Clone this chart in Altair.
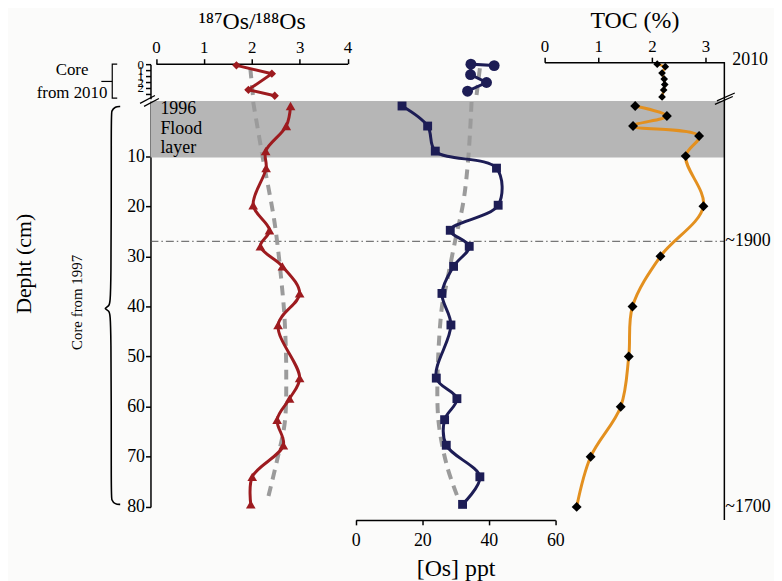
import altair as alt
import pandas as pd

# ---------------- data ----------------
# Core from 1997 (depth in cm)
core97_depth = [0, 4, 9, 12.4, 19.8, 24.8, 28, 32, 37.4, 43.7, 54.3, 58.4, 62.6, 67.7, 74, 79.5]
core97_os_ratio = [2.81, 2.72, 2.29, 2.30, 2.03, 2.37, 2.18, 2.64, 3.00, 2.55, 3.00, 2.79, 2.53, 2.66, 2.01, 1.98]
core97_os_ppt = [13.9, 21.6, 23.9, 42.3, 42.8, 28.4, 34.1, 29.4, 25.9, 28.6, 24.2, 30.4, 26.7, 27.2, 37.3, 32.1]
core97_toc_depth = [0, 2, 4, 6, 10, 20, 30, 40, 50, 60, 70, 80]
core97_toc = [1.69, 2.28, 1.65, 2.88, 2.63, 2.96, 2.16, 1.64, 1.57, 1.42, 0.86, 0.60]

# Core from 2010
core10_ratio_depth = [0.1, 0.8, 2.15, 2.65]
core10_os_ratio = [1.68, 2.42, 1.93, 2.48]
core10_ppt_depth = [0.12, 0.0, 0.88, 1.54, 2.27]
core10_os_ppt = [41.6, 34.6, 34.5, 39.3, 33.6]
core10_toc_depth = [0, 0.21, 0.75, 1.25, 1.71, 2.17, 2.75]
core10_toc = [2.10, 2.25, 2.19, 2.23, 2.24, 2.22, 2.19]

# dashed trend curves
trend_ratio_depth = [-0.8, 10.3, 23.5, 38, 43.3, 53.2, 63.1, 69.8, 78.2]
trend_ratio = [2.03, 2.23, 2.48, 2.65, 2.69, 2.72, 2.69, 2.55, 2.34]
trend10_ratio_depth = [0.35, 2.85]
trend10_ratio = [1.97, 2.03]
trend_ppt_depth = [-0.8, 9.7, 18.9, 26.8, 36.7, 40, 53.2, 63.1, 71.8, 78.0]
trend_ppt = [34.8, 33.9, 32.4, 29.9, 26.9, 25.9, 24.6, 24.9, 27.4, 30.6]
trend10_ppt_depth = [0.35, 2.6]
trend10_ppt = [37.3, 36.3]

flood_layer = [-1, 10.3]          # depth range of the 1996 flood layer
flood_text = ["1996", "Flood", "layer"]
flood_text_depth = [0.7, 4.6, 8.4]
date_labels = ["~1900", "~1700"]
date_depths = [27, 80]

# ---------------- layout ----------------
W, H = 578, 461
FONT = "Liberation Serif"
RED = "#9d1b1f"
NAVY = "#1d1d55"
ORANGE = "#e3901f"
GREY = "#9b9b9b"


def sc(domain, rng):
    return alt.Scale(domain=domain, range=rng, nice=False, zero=False)


X_RATIO = [[0, 4], [5.5, 198.5]]
X_PPT = [[0, 60], [206.8, 407.8]]
X_TOC = [[0, 3.35], [396.8, 578]]
Y_TOP = [[0, 2.9], [2, 36.8]]
Y_BOT = [[-1, 80], [39.1, 447.9]]


def X(s, axis=None, field="v"):
    return alt.X(f"{field}:Q", scale=sc(*s), axis=axis)


def Y(s, axis=None, field="d"):
    return alt.Y(f"{field}:Q", scale=sc(*s), axis=axis)


def df(d, v):
    return pd.DataFrame({"d": d, "v": v, "i": list(range(len(d)))})


layers = []

# flood band
layers.append(
    alt.Chart(pd.DataFrame({"d": [flood_layer[0]], "d2": [flood_layer[1]]}))
    .mark_rect(color="#b6b6b6")
    .encode(x=alt.value(0), x2=alt.value(W), y=Y(Y_BOT), y2="d2:Q")
)
# ~1900 dash-dot line
layers.append(
    alt.Chart(pd.DataFrame({"d": [date_depths[0]]}))
    .mark_rule(color="#555555", strokeWidth=1, strokeDash=[8, 3, 1.5, 3])
    .encode(x=alt.value(0), x2=alt.value(W), y=Y(Y_BOT))
)
# right frame line
layers.append(
    alt.Chart(pd.DataFrame({"a": [0]}))
    .mark_rule(color="black", strokeWidth=1.5)
    .encode(x=alt.value(W), y=alt.value(0), y2=alt.value(H))
)

# dashed trends
dash = dict(color=GREY, strokeWidth=4, strokeDash=[10, 7])
for d, v, xs, ys in [
    (trend_ratio_depth, trend_ratio, X_RATIO, Y_BOT),
    (trend10_ratio_depth, trend10_ratio, X_RATIO, Y_TOP),
    (trend_ppt_depth, trend_ppt, X_PPT, Y_BOT),
    (trend10_ppt_depth, trend10_ppt, X_PPT, Y_TOP),
]:
    layers.append(
        alt.Chart(df(d, v)).mark_line(interpolate="catmull-rom", **dash)
        .encode(x=X(xs), y=Y(ys), order="i:Q")
    )

ax_common = dict(labelFlush=False, labelOverlap=False, grid=False)

# ---- Os ratio ----
layers.append(
    alt.Chart(df(core97_depth, core97_os_ratio)).mark_line(color=RED, strokeWidth=3, interpolate="catmull-rom")
    .encode(x=X(X_RATIO), y=Y(Y_BOT), order="i:Q")
)
layers.append(
    alt.Chart(df(core97_depth, core97_os_ratio))
    .mark_point(shape="triangle-up", filled=True, size=95, color=RED, opacity=1)
    .encode(
        x=X(X_RATIO),
        y=Y(Y_BOT, alt.Axis(orient="left", values=[10, 20, 30, 40, 50, 60, 70, 80], title=None,
                            labelFontSize=18, labelPadding=1, tickSize=5, **ax_common)),
    )
)
layers.append(
    alt.Chart(df(core10_ratio_depth, core10_os_ratio)).mark_line(color=RED, strokeWidth=3)
    .encode(x=X(X_RATIO), y=Y(Y_TOP), order="i:Q")
)
layers.append(
    alt.Chart(df(core10_ratio_depth, core10_os_ratio))
    .mark_point(shape="diamond", filled=True, size=70, color=RED, opacity=1)
    .encode(
        x=X(X_RATIO, alt.Axis(orient="top", values=[0, 1, 2, 3, 4], format="d", title="¹⁸⁷Os/¹⁸⁸Os",
                              labelFontSize=17, titleFontSize=24, titlePadding=5, labelPadding=2,
                              tickSize=5, offset=-1.5, **ax_common)),
        y=Y(Y_TOP, alt.Axis(orient="left", values=[0, 0.5, 1, 1.5, 2, 2.5], title=None,
                            labelExpr="datum.value < 2.4 ? format(datum.value, '.0f') : ''",
                            labelFontSize=13, labelPadding=2, tickSize=5, **ax_common)),
    )
)

# ---- Os concentration ----
layers.append(
    alt.Chart(df(core97_depth, core97_os_ppt)).mark_line(color=NAVY, strokeWidth=3, interpolate="catmull-rom")
    .encode(x=X(X_PPT), y=Y(Y_BOT), order="i:Q")
)
layers.append(
    alt.Chart(df(core97_depth, core97_os_ppt))
    .mark_point(shape="square", filled=True, size=80, color=NAVY, opacity=1)
    .encode(
        x=X(X_PPT, alt.Axis(orient="bottom", values=[0, 20, 40, 60], format="d", title="[Os] ppt",
                            labelFontSize=18, titleFontSize=24, titlePadding=7, labelPadding=7,
                            tickSize=5, **ax_common)),
        y=Y(Y_BOT),
    )
)
layers.append(
    alt.Chart(df(core10_ppt_depth, core10_os_ppt)).mark_line(color=NAVY, strokeWidth=3)
    .encode(x=X(X_PPT), y=Y(Y_TOP), order="i:Q")
)
layers.append(
    alt.Chart(df(core10_ppt_depth, core10_os_ppt))
    .mark_point(shape="circle", filled=True, size=120, color=NAVY, opacity=1)
    .encode(x=X(X_PPT), y=Y(Y_TOP))
)

# ---- TOC ----
layers.append(
    alt.Chart(df(core97_toc_depth, core97_toc)).mark_line(color=ORANGE, strokeWidth=3, interpolate="catmull-rom")
    .encode(x=X(X_TOC), y=Y(Y_BOT), order="i:Q")
)
layers.append(
    alt.Chart(df(core97_toc_depth, core97_toc))
    .mark_point(shape="diamond", filled=True, size=100, color="black", opacity=1)
    .encode(x=X(X_TOC), y=Y(Y_BOT))
)
layers.append(
    alt.Chart(df(core10_toc_depth, core10_toc)).mark_line(color=ORANGE, strokeWidth=2.5)
    .encode(x=X(X_TOC), y=Y(Y_TOP), order="i:Q")
)
layers.append(
    alt.Chart(df(core10_toc_depth, core10_toc))
    .mark_point(shape="diamond", filled=True, size=60, color="black", opacity=1)
    .encode(
        x=X(X_TOC, alt.Axis(orient="top", values=[0, 1, 2, 3], format="d", title="TOC (%)",
                            labelFontSize=17, titleFontSize=24, titlePadding=5, labelPadding=2,
                            tickSize=5, **ax_common)),
        y=Y(Y_TOP),
    )
)

# ---- texts ----
txt = dict(font=FONT, color="black")
layers.append(
    alt.Chart(pd.DataFrame({"d": flood_text_depth, "t": flood_text}))
    .mark_text(align="left", baseline="middle", fontSize=18, **txt)
    .encode(x=alt.value(10), y=Y(Y_BOT), text="t:N")
)
layers.append(
    alt.Chart(pd.DataFrame({"d": date_depths, "t": date_labels}))
    .mark_text(align="left", baseline="middle", fontSize=18, **txt)
    .encode(x=alt.value(W + 1), y=Y(Y_BOT), text="t:N")
)
layers.append(
    alt.Chart(pd.DataFrame({"d": [0], "t": ["2010"]}))
    .mark_text(align="left", baseline="middle", fontSize=18, dy=-4, **txt)
    .encode(x=alt.value(W + 8), y=Y(Y_TOP), text="t:N")
)
layers.append(
    alt.Chart(pd.DataFrame({"d": [0.46, 2.42], "t": ["Core", "from 2010"]}))
    .mark_text(align="center", baseline="middle", fontSize=17, **txt)
    .encode(x=alt.value(-79), y=Y(Y_TOP), text="t:N")
)
layers.append(
    alt.Chart(pd.DataFrame({"d": [39.2], "t": ["Core from 1997"]}))
    .mark_text(align="center", baseline="middle", fontSize=15, angle=270, **txt)
    .encode(x=alt.value(-73.5), y=Y(Y_BOT), text="t:N")
)
layers.append(
    alt.Chart(pd.DataFrame({"d": [31.5], "t": ["Depht (cm)"]}))
    .mark_text(align="center", baseline="middle", fontSize=22, angle=270, **txt)
    .encode(x=alt.value(-127), y=Y(Y_BOT), text="t:N")
)

# ---- brackets and axis breaks (decoration, pixel x) ----
brace97 = pd.DataFrame({
    "px": [-30.5, -35.5, -39.5, -39.5, -39.5, -41.5, -47.5, -41.5, -39.5, -39.5, -39.5, -35.5, -30.5],
    "d": [0.1, 0.1, 1.0, 2.0, 38.6, 40.0, 40.4, 40.8, 42.2, 77.5, 78.6, 79.5, 79.5],
})
brace97["i"] = range(len(brace97))
layers.append(
    alt.Chart(brace97).mark_line(color="black", strokeWidth=1.6, interpolate="basis")
    .encode(x=alt.X("px:Q", scale=None, axis=None), y=Y(Y_BOT), order="i:Q")
)
bracket10 = pd.DataFrame({
    "px": [-33.5, -38.5, -38.5, -33.5, -49.5, -38.5],
    "d": [0.0, 0.0, 2.85, 2.85, 1.45, 1.45],
    "g": [0, 0, 0, 0, 1, 1],
})
bracket10["i"] = range(len(bracket10))
layers.append(
    alt.Chart(bracket10).mark_line(color="black", strokeWidth=1.2)
    .encode(x=alt.X("px:Q", scale=None, axis=None), y=Y(Y_TOP), detail="g:N", order="i:Q")
)
breaks = pd.DataFrame({
    "px": [-10.5, 4.5, -6.5, 8.5, 568.5, 586.5, 570.5, 588.5],
    "py": [41.5, 33.5, 44.5, 36.5, 42.5, 34.5, 39.0, 31.0],
    "g": [0, 0, 1, 1, 2, 2, 3, 3],
})
layers.append(
    alt.Chart(breaks).mark_line(color="black", strokeWidth=1.2)
    .encode(x=alt.X("px:Q", scale=None, axis=None), y=alt.Y("py:Q", scale=None, axis=None), detail="g:N")
)

chart = (
    alt.layer(*layers)
    .resolve_scale(x="independent", y="independent")
    .properties(
        width=W,
        height=H,
        autosize=alt.AutoSizeParams(type="none"),
        padding={"left": 143.5, "top": 52.5, "right": 50, "bottom": 62},
        background="#fbfbfa",
    )
    .configure_view(stroke=None)
    .configure_axis(
        labelFont=FONT, titleFont=FONT, labelColor="black", titleColor="black",
        titleFontWeight="normal", domainColor="black", tickColor="black",
        domainWidth=1.5, tickWidth=1.5, grid=False,
    )
)

chart.save("out.html", embed_options={"renderer": "svg", "actions": False})
